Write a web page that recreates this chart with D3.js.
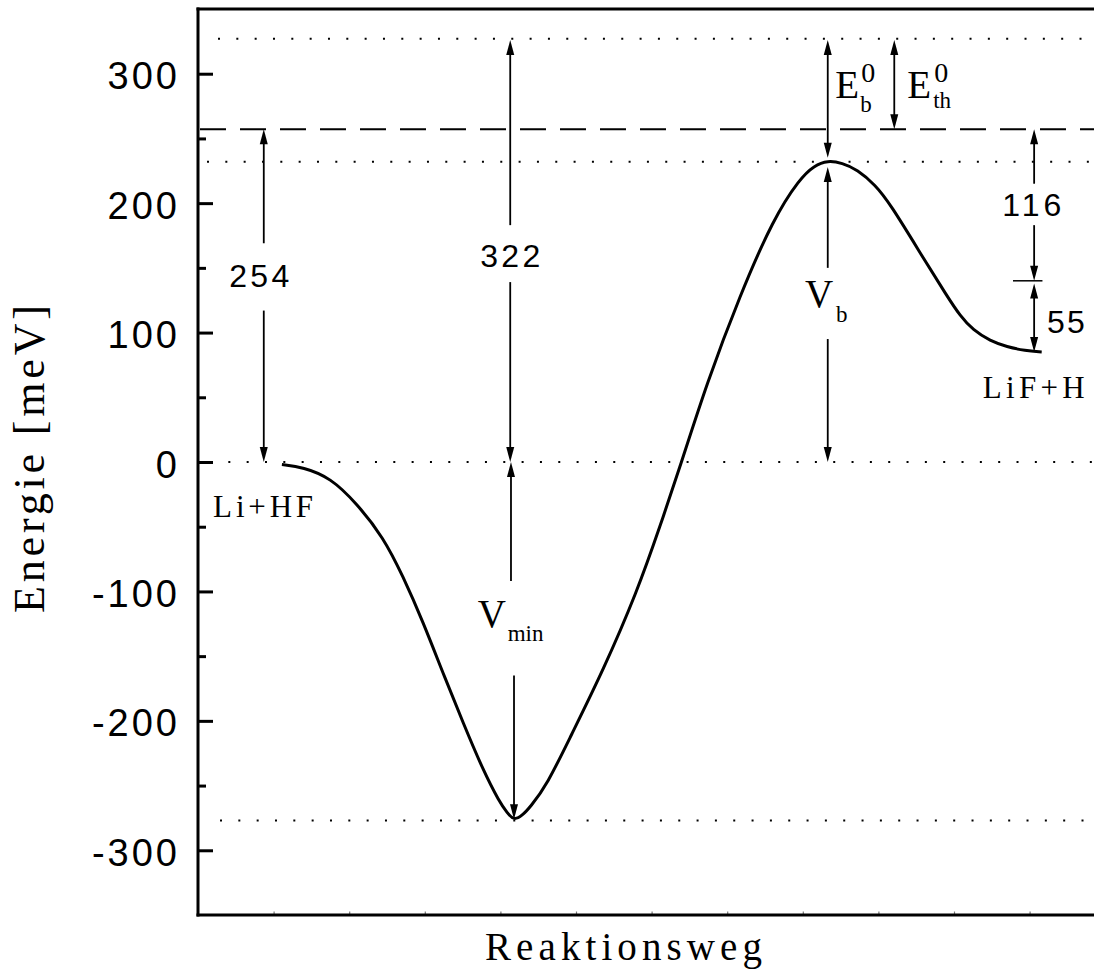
<!DOCTYPE html>
<html>
<head>
<meta charset="utf-8">
<script src="https://cdn.jsdelivr.net/npm/d3@7"></script>
<style>
  body { margin: 0; background: #fff; }
  svg { display: block; }
  .sans { font-family: "Liberation Sans", Arial, sans-serif; }
  .serif { font-family: "Liberation Serif", "Times New Roman", serif; }
</style>
</head>
<body>
<div id="chart"></div>
<script>
// reaction path (x = reaction coordinate, e = energy in meV)
var pathX = [1.11, 1.39, 1.75, 2.10, 2.45, 2.71, 2.98, 3.24, 3.51, 3.77, 3.99, 4.09, 4.18, 4.29, 4.39,
             4.62, 4.92, 5.36, 5.81, 6.11, 6.38, 6.73, 7.17, 7.61, 7.96, 8.15, 8.33, 8.52, 8.72,
             8.96, 9.15, 9.59, 9.91, 10.08, 10.25, 10.48, 10.70, 10.94, 11.16];
var pathE = [-2, -4, -12, -32, -58, -88, -124, -163, -202, -238, -263, -271, -277, -273, -267,
             -249, -213, -161, -100, -50, -3, 61, 129, 188, 219, 229, 233, 231, 226,
             214, 200, 158, 128, 113, 102, 93.5, 89, 86, 85];

// energy levels
var dottedLevels = [327, 232, 0, -277];
var dashedLevel = 257;

var majorTicks = [-300, -200, -100, 0, 100, 200, 300];
var minorTicks = [-250, -150, -50, 50, 150, 250];
var xTicks = d3.range(1, 12);

// annotation arrows: x, from, to, head at from, head at to
var arrows = [
  [0.87, 257, 169, true, false], [0.87, 117, 0, false, true],
  [4.13, 326, 183, true, false], [4.13, 139, 0, false, true],
  [4.14, 0, -92, true, false], [4.18, -165, -276, false, true],
  [8.33, 326, 235, true, true],
  [9.21, 326, 257, true, true],
  [8.33, 228, 150, true, false], [8.33, 95, 0, false, true],
  [11.06, 257, 215, true, false], [11.06, 183, 140, false, true],
  [11.06, 138, 85, true, true]
];

// number labels on arrows: text, x centre, baseline energy, width
var numLabels = [
  ["254", 0.81, 135, 60],
  ["322", 4.13, 151, 60],
  ["116", 11.03, 190, 59],
  ["55", 11.48, 100, 38]
];

function init() {
  var w = 1094;
  var h = 973;

  var x = d3.scaleLinear().domain([0, 12]).range([198, 198 + 12 * 75.6]);
  var y = d3.scaleLinear().domain([-350, 350]).range([915, 9]);

  var svg = d3.select("#chart")
    .append("svg")
    .attr("width", w)
    .attr("height", h);

  // reference lines
  svg.selectAll(".dots")
    .data(dottedLevels)
    .enter()
    .append("line")
    .attr("x1", function(d, i) { return [218, 207, 210, 220][i]; })
    .attr("x2", w)
    .attr("y1", function(d) { return y(d); })
    .attr("y2", function(d) { return y(d); })
    .style("stroke", "#000")
    .style("stroke-width", 2)
    .style("stroke-dasharray", "2,16.33");

  svg.append("line")
    .attr("x1", 200)
    .attr("x2", w)
    .attr("y1", y(dashedLevel))
    .attr("y2", y(dashedLevel))
    .style("stroke", "#000")
    .style("stroke-width", 2)
    .style("stroke-dasharray", "26,14");

  // y axis ticks (inside)
  var yAxis = d3.axisLeft(y)
    .tickValues(majorTicks)
    .tickSize(-15)
    .tickPadding(18)
    .tickFormat(function(d) { return String(d); });

  var gy = svg.append("g")
    .attr("transform", "translate(198,0)")
    .call(yAxis);
  gy.select(".domain").remove();
  gy.selectAll(".tick line").style("stroke-width", 3);
  gy.selectAll(".tick text")
    .attr("class", "sans")
    .style("font-size", "38px")
    .style("letter-spacing", "3px")
    .attr("dy", "15px");

  var gyMinor = svg.append("g")
    .attr("transform", "translate(198,0)")
    .call(d3.axisLeft(y).tickValues(minorTicks).tickSize(-8).tickFormat(""));
  gyMinor.select(".domain").remove();
  gyMinor.selectAll(".tick line").style("stroke-width", 3);

  var gx = svg.append("g")
    .attr("transform", "translate(0,915)")
    .call(d3.axisBottom(x).tickValues(xTicks).tickSize(-3.5).tickFormat(""));
  gx.select(".domain").remove();
  gx.selectAll(".tick line").style("stroke", "#777").style("stroke-width", 1.2);

  // frame
  svg.append("line").attr("x1", 198).attr("x2", 198).attr("y1", 7.5).attr("y2", 916.5)
    .style("stroke", "#000").style("stroke-width", 3);
  svg.append("line").attr("x1", 196.5).attr("x2", w).attr("y1", 9).attr("y2", 9)
    .style("stroke", "#000").style("stroke-width", 3);
  svg.append("line").attr("x1", 196.5).attr("x2", w).attr("y1", 915).attr("y2", 915)
    .style("stroke", "#000").style("stroke-width", 3);

  // potential curve
  var line = d3.line()
    .x(function(d) { return x(d[0]); })
    .y(function(d) { return y(d[1]); })
    .curve(d3.curveBasis);

  svg.append("path")
    .datum(d3.zip(pathX, pathE))
    .attr("d", line)
    .style("fill", "none")
    .style("stroke", "#000")
    .style("stroke-width", 3);

  // arrows
  function head(px, tip, dir) {
    // dir = -1 points up, 1 points down
    var base = tip - dir * 15;
    return "M" + px + "," + tip + "L" + (px - 4) + "," + base + "L" + (px + 4) + "," + base + "Z";
  }

  arrows.forEach(function(a) {
    var px = x(a[0]);
    var y1 = y(a[1]), y2 = y(a[2]);
    var dir1 = y1 < y2 ? -1 : 1;
    svg.append("line")
      .attr("x1", px).attr("x2", px)
      .attr("y1", a[3] ? y1 - dir1 * 10 : y1)
      .attr("y2", a[4] ? y2 + dir1 * 10 : y2)
      .style("stroke", "#000")
      .style("stroke-width", 1.8);
    if (a[3]) svg.append("path").attr("d", head(px, y1, dir1)).style("fill", "#000");
    if (a[4]) svg.append("path").attr("d", head(px, y2, -dir1)).style("fill", "#000");
  });

  // small tick between 116 and 55
  svg.append("line")
    .attr("x1", x(10.78)).attr("x2", x(11.17))
    .attr("y1", y(140)).attr("y2", y(140))
    .style("stroke", "#000")
    .style("stroke-width", 1.5);

  // number labels
  svg.selectAll(".num")
    .data(numLabels)
    .enter()
    .append("text")
    .attr("class", "sans")
    .attr("x", function(d) { return x(d[1]); })
    .attr("y", function(d) { return y(d[2]); })
    .attr("text-anchor", "middle")
    .attr("textLength", function(d) { return d[3]; })
    .attr("lengthAdjust", "spacing")
    .style("font-size", "32px")
    .text(function(d) { return d[0]; });

  // symbol labels
  function symbol(px, base, main, sub, sup, subDx, supDx, subDy, supDy) {
    svg.append("text")
      .attr("class", "serif")
      .attr("x", px)
      .attr("y", base)
      .style("font-size", "39px")
      .text(main);
    if (sup) {
      svg.append("text").attr("class", "serif")
        .attr("x", px + supDx).attr("y", base + supDy)
        .style("font-size", "28px").text(sup);
    }
    if (sub) {
      svg.append("text").attr("class", "serif")
        .attr("x", px + subDx).attr("y", base + subDy)
        .style("font-size", "23px").text(sub);
    }
  }

  symbol(x(3.70), y(-127.5), "V", "min", null, 30, 0, 14, 0);
  symbol(x(8.03), y(119.8), "V", "b", null, 31, 0, 15, 0);
  symbol(x(8.43), y(281.2), "E", "b", "0", 25, 26, 14, -16);
  symbol(x(9.38), y(281.2), "E", "th", "0", 26, 27, 10, -16);

  // species labels
  svg.append("text")
    .attr("class", "serif")
    .attr("x", x(0.20))
    .attr("y", y(-42.5))
    .attr("textLength", 100)
    .attr("lengthAdjust", "spacing")
    .style("font-size", "31px")
    .text("Li+HF");

  svg.append("text")
    .attr("class", "serif")
    .attr("x", x(10.38))
    .attr("y", y(49.4))
    .attr("textLength", 102)
    .attr("lengthAdjust", "spacing")
    .style("font-size", "31px")
    .text("LiF+H");

  // axis titles
  svg.append("text")
    .attr("class", "serif")
    .attr("x", 485)
    .attr("y", 960)
    .attr("textLength", 277)
    .attr("lengthAdjust", "spacing")
    .style("font-size", "39px")
    .text("Reaktionsweg");

  svg.append("text")
    .attr("class", "serif")
    .attr("transform", "translate(44,613) rotate(-90)")
    .attr("x", 0)
    .attr("y", 0)
    .attr("textLength", 308)
    .attr("lengthAdjust", "spacing")
    .style("font-size", "44px")
    .text("Energie [meV]");
}

window.onload = init;
</script>
</body>
</html>
